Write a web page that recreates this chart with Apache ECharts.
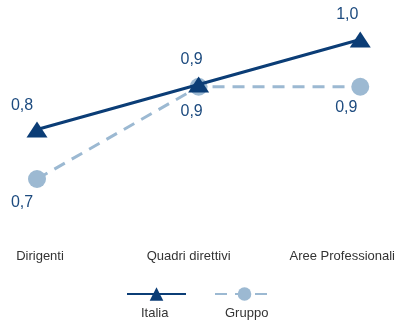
<!DOCTYPE html>
<html>
<head>
<meta charset="utf-8">
<script src="https://cdn.jsdelivr.net/npm/echarts@6/dist/echarts.min.js"></script>
<style>
  html, body { margin: 0; padding: 0; background: #ffffff; }
  #chart { width: 398px; height: 323px; }
</style>
</head>
<body>
<div id="chart"></div>
<script>
// Categories along the x axis
const categories = ['Dirigenti', 'Quadri direttivi', 'Aree Professionali'];
// Series values (labels show them rounded to one decimal)
const italiaValues = [0.79, 0.89, 0.99];
const gruppoValues = [0.68, 0.885, 0.885];
const seriesNames = ['Italia', 'Gruppo'];

const ITALIA_COLOR = '#0b3d76';
const GRUPPO_COLOR = '#9cb9d2';
const LABEL_COLOR = '#1d4b7f';
const FONT = 'Liberation Sans, Arial, sans-serif';

// per-point label nudges
const italiaLabelOffsets = [[-15, 1], [-7, 0], [-13, 0]];
const gruppoLabelOffsets = [[-15, 1], [-7, 2], [-14, -2]];
// per-category axis label padding (shifts centered text)
const catPadding = [[0, 0, 0, 6], [0, 20, 0, 0], [0, 36, 0, 0]];

const fmt = p => p.value.toFixed(1).replace('.', ',');

function buildData(values, offsets) {
  return values.map((v, i) => ({ value: v, label: { offset: offsets[i] } }));
}

// legend entries: icon on top, name underneath
function legendBlock(name, left, shift) {
  return {
    data: [name],
    left: left, top: 260.5,
    itemWidth: 59, itemHeight: 17,
    formatter: '\n\n{name}',
    textStyle: {
      color: '#333333', fontSize: 13, lineHeight: 19, fontFamily: FONT,
      padding: [0, 0, 0, shift]
    }
  };
}

const chart = echarts.init(document.getElementById('chart'), null, { renderer: 'canvas' });

chart.setOption({
  animation: false,
  backgroundColor: '#ffffff',
  textStyle: { fontFamily: FONT },
  grid: { left: 37, right: 36, top: 35, height: 180 },
  xAxis: {
    type: 'category',
    boundaryGap: false,
    data: categories.map((c, i) => ({ value: c, textStyle: { padding: catPadding[i] } })),
    axisLine: { show: false },
    axisTick: { show: false },
    splitLine: { show: false },
    axisLabel: { color: '#333333', fontSize: 13, fontFamily: FONT, margin: 35, interval: 0 }
  },
  yAxis: {
    type: 'value',
    min: 0.6,
    max: 1.0,
    show: false,
    splitLine: { show: false }
  },
  legend: [
    legendBlock(seriesNames[0], 121, -50),
    legendBlock(seriesNames[1], 209, -54)
  ],
  series: [
    {
      name: seriesNames[1],
      type: 'line',
      data: buildData(gruppoValues, gruppoLabelOffsets),
      symbol: 'circle',
      symbolSize: 18,
      itemStyle: { color: GRUPPO_COLOR },
      lineStyle: { color: GRUPPO_COLOR, width: 3, type: [12, 8] },
      label: {
        show: true, position: 'bottom', distance: 6,
        color: LABEL_COLOR, fontSize: 16, fontFamily: FONT, formatter: fmt
      },
      z: 2
    },
    {
      name: seriesNames[0],
      type: 'line',
      data: buildData(italiaValues, italiaLabelOffsets),
      symbol: 'triangle',
      symbolSize: [21, 16],
      itemStyle: { color: ITALIA_COLOR },
      lineStyle: { color: ITALIA_COLOR, width: 3 },
      label: {
        show: true, position: 'top', distance: 9,
        color: LABEL_COLOR, fontSize: 16, fontFamily: FONT, formatter: fmt
      },
      z: 3
    }
  ]
});
</script>
</body>
</html>
